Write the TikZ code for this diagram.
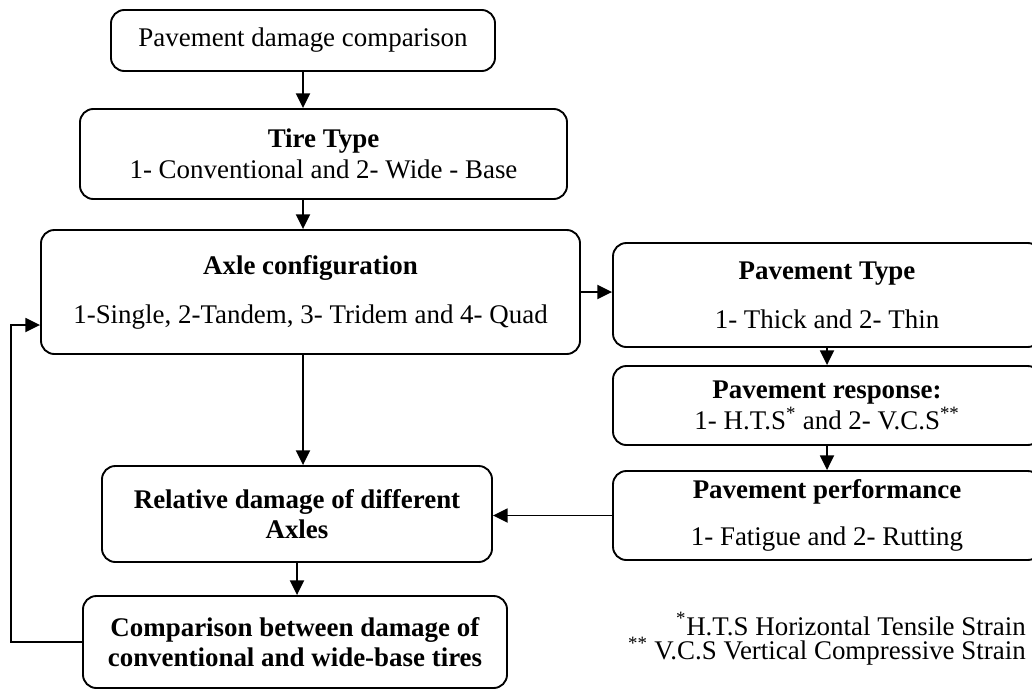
\documentclass[tikz,border=0pt]{standalone}
\usepackage{fontspec}
\setmainfont{Liberation Serif}
\usetikzlibrary{arrows.meta}
\begin{document}
\begin{tikzpicture}[x=0.75pt,y=-0.75pt,
  box/.style={draw, line width=1.4pt, rounded corners=10pt, align=center, inner sep=2pt,
              font=\fontsize{20.2pt}{22.8pt}\selectfont},
  arr/.style={line width=1.4pt, -{Triangle[length=11pt,width=10.5pt]}},
  note/.style={inner sep=0pt, anchor=east, font=\fontsize{20.2pt}{22.8pt}\selectfont}]
\useasboundingbox (0,0) rectangle (1032,689);
\begin{scope}
\clip (0,0) rectangle (1032,689);
% left column
\node[box, minimum width=288pt, minimum height=45.75pt] (b1) at (303,40.5)
  {Pavement damage comparison};
\node[box, minimum width=365.25pt, minimum height=67.5pt] (b2) at (323.5,154)
  {\textbf{Tire Type}\\ 1- Conventional and 2- Wide - Base};
\node[box, minimum width=404.25pt, minimum height=93pt] (b3) at (310.5,292)
  {\textbf{Axle configuration}\\[14pt] 1-Single, 2-Tandem, 3- Tridem and 4- Quad};
\node[box, minimum width=292.5pt, minimum height=72pt] (b7) at (297,514)
  {\textbf{Relative damage of different}\\ \textbf{Axles}};
\node[box, minimum width=318pt, minimum height=69pt] (b8) at (295,642)
  {\textbf{Comparison between damage of}\\ \textbf{conventional and wide-base tires}};
% right column
\node[box, minimum width=321pt, minimum height=78pt] (b4) at (827,295)
  {\textbf{Pavement Type}\\[14pt] 1- Thick and 2- Thin};
\node[box, minimum width=321pt, minimum height=59.25pt] (b5) at (827,405.5)
  {\textbf{Pavement response:}\\ 1- H.T.S\textsuperscript{*} and 2- V.C.S\textsuperscript{**}};
\node[box, minimum width=321pt, minimum height=66.75pt] (b6) at (827,515.5)
  {\textbf{Pavement performance}\\[12.5pt] 1- Fatigue and 2- Rutting};
% footnotes
\node[note] (n1) at (1026,624) {\textsuperscript{*}H.T.S Horizontal Tensile Strain};
\node[note] (n2) at (1026,651) {\textsuperscript{**} V.C.S Vertical Compressive Strain};
% connectors
\draw[arr] (b1.south) -- (b1.south |- b2.north);
\draw[arr] (b1.south |- b2.south) -- (b1.south |- b3.north);
\draw[arr] (b3.east) -- (b3.east -| b4.west);
\draw[arr] (b4.south) -- (b5.north);
\draw[arr] (b5.south) -- (b6.north);
\draw[arr] (b6.west) -- (b6.west -| b7.east);
\draw[arr] (b1.south |- b3.south) -- (b1.south |- b7.north);
\draw[arr] (b7.south) -- (b7.south |- b8.north);
\coordinate (fb) at (11,325);
\draw[arr] (b8.west) -| (fb) -- (fb -| b3.west);
\end{scope}
\end{tikzpicture}
\end{document}
